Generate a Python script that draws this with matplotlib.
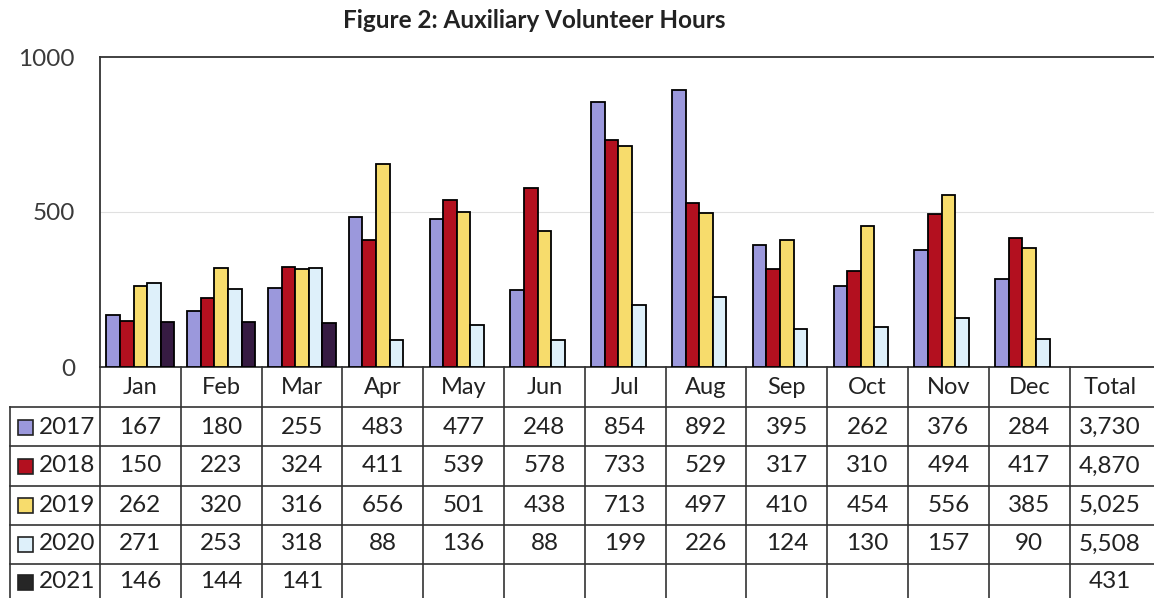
import numpy as np
import matplotlib
matplotlib.use("Agg")
import matplotlib.pyplot as plt
from matplotlib.patches import Rectangle

plt.rcParams['font.family'] = ['Lato', 'DejaVu Sans']

# Data
months = ["Jan", "Feb", "Mar", "Apr", "May", "Jun", "Jul", "Aug", "Sep", "Oct", "Nov", "Dec"]
years = ["2017", "2018", "2019", "2020", "2021"]
hours_2017 = [167, 180, 255, 483, 477, 248, 854, 892, 395, 262, 376, 284]
hours_2018 = [150, 223, 324, 411, 539, 578, 733, 529, 317, 310, 494, 417]
hours_2019 = [262, 320, 316, 656, 501, 438, 713, 497, 410, 454, 556, 385]
hours_2020 = [271, 253, 318, 88, 136, 88, 199, 226, 124, 130, 157, 90]
hours_2021 = [146, 144, 141]
totals = ["3,730", "4,870", "5,025", "5,508", "431"]

series = [hours_2017, hours_2018, hours_2019, hours_2020, hours_2021]
colors = ["#9b98dc", "#b3101f", "#f7dc6c", "#def0fa", "#361b42"]
key_colors = ["#9b98dc", "#b3101f", "#f7dc6c", "#def0fa", "#262626"]

W, H = 1154, 598
fig = plt.figure(figsize=(W / 100, H / 100), dpi=100)

# pixel layout
ax_left, ax_right, ax_top, ax_bottom = 100, 1154, 57, 367
cat_w = 80.8
n_cat = 13  # 12 months + Total column

# overlay axes in pixel coords for the data table
tab = fig.add_axes([0, 0, 1, 1], zorder=0)
tab.set_xlim(0, W)
tab.set_ylim(H, 0)
tab.axis('off')

ax = fig.add_axes([ax_left / W, 1 - ax_bottom / H, (ax_right - ax_left) / W,
                   (ax_bottom - ax_top) / H], zorder=1)
ax.set_facecolor('none')
ax.set_xlim(0, (ax_right - ax_left) / cat_w)
ax.set_ylim(0, 1000)

bar_w = 0.168
offset = 0.08
for j, vals in enumerate(series):
    x = np.arange(len(vals)) + offset + j * bar_w
    ax.bar(x, vals, width=bar_w, align='edge', color=colors[j],
           edgecolor='black', linewidth=1.3, zorder=3)

ax.axhline(500, color='#e0e0e0', linewidth=0.8, zorder=1)
ax.set_xticks([])
ax.set_yticks([0, 500, 1000])
ax.set_yticklabels(["0", "500", "1000"], fontsize=17.5, color='#3a3a3a')
ax.tick_params(axis='y', length=0, pad=18)
for s in ['left', 'top', 'bottom']:
    ax.spines[s].set_color('#333333')
    ax.spines[s].set_linewidth(1.3)
ax.spines['right'].set_visible(False)

fig.text(534 / W, 1 - 21 / H, "Figure 2: Auxiliary Volunteer Hours",
         ha='center', va='center', fontsize=17.5, fontweight='bold', color='#222222')

# table grid
line_kw = dict(color='#333333', linewidth=1.2)
row_lines = [407, 446, 486, 525, 564]
row_centers = [427, 466, 505, 544, 582]
header_y = 387
col_edges = [ax_left + i * cat_w for i in range(n_cat)]
for xe in col_edges:
    tab.plot([xe, xe], [ax_bottom, H], **line_kw)
tab.plot([10, 10], [row_lines[0], H], **line_kw)
for yl in row_lines:
    tab.plot([10, W], [yl, yl], **line_kw)

headers = months + ["Total"]
for i, hd in enumerate(headers):
    tab.text(ax_left + (i + 0.5) * cat_w, header_y, hd, ha='center', va='center',
             fontsize=17, color='#222222')

for j, yr in enumerate(years):
    yc = row_centers[j]
    tab.add_patch(Rectangle((18, yc - 7.5), 15, 15, facecolor=key_colors[j],
                            edgecolor='#222222', linewidth=1.2))
    tab.text(39, yc, yr, ha='left', va='center', fontsize=17.5, color='#222222')
    for i, v in enumerate(series[j]):
        tab.text(ax_left + (i + 0.5) * cat_w, yc, str(v), ha='center', va='center',
                 fontsize=17.5, color='#222222')
    tab.text(ax_left + 12.5 * cat_w, yc, totals[j], ha='center', va='center',
             fontsize=17.5, color='#222222')

fig.savefig("out.png", dpi=100, facecolor='white')
